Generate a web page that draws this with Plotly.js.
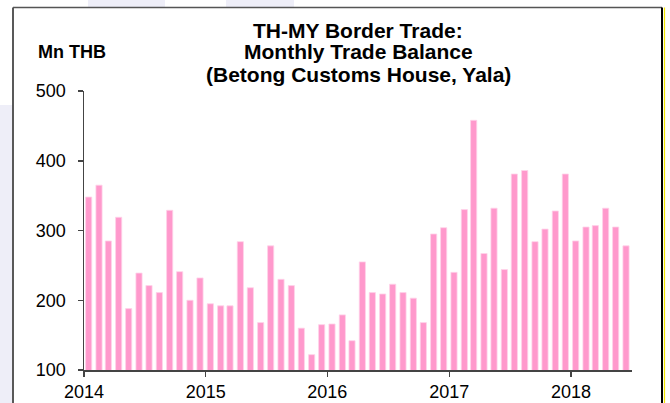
<!DOCTYPE html>
<html>
<head>
<meta charset="utf-8">
<script src="https://cdn.plot.ly/plotly-3.0.1.min.js"></script>
<style>
  html, body { margin: 0; padding: 0; background: #ffffff; }
  #chart { width: 670px; height: 403px; }
</style>
</head>
<body>
<div id="chart"></div>
<script>
// Monthly trade balance, Mn THB, Jan 2014 - Jun 2018
const startYear = 2014;
const tradeBalance = [
  348, 365, 285, 319, 188, 239, 221, 211, 329, 241, 200, 232,   // 2014
  195, 192, 192, 284, 218, 168, 278, 230, 221, 160, 122, 165,   // 2015
  166, 179, 142, 255, 211, 209, 223, 211, 203, 168, 295, 304,   // 2016
  240, 330, 458, 267, 332, 244, 381, 386, 284, 302, 328, 381,   // 2017
  285, 305, 307, 332, 305, 278                                  // 2018
];
const yearTicks = [2014, 2015, 2016, 2017, 2018];
const yTicks = [100, 200, 300, 400, 500];
const titleLines = ['TH-MY Border Trade:', 'Monthly Trade Balance', '(Betong Customs House, Yala)'];
const unitLabel = 'Mn THB';

// month categories (mid-month dates)
const months = tradeBalance.map((_, i) => {
  const y = startYear + Math.floor(i / 12);
  const m = (i % 12) + 1;
  return y + '-' + String(m).padStart(2, '0') + '-15';
});

const FONT = 'Liberation Sans, Arial, Helvetica, sans-serif';

const trace = {
  type: 'bar',
  x: months,
  y: tradeBalance,
  width: 18.5 * 86400000,
  marker: { color: '#ff99cc', line: { color: '#ffd3ea', width: 0.8 } },
  hoverinfo: 'x+y'
};

// pixel -> paper helpers (plot area: x 84..632, y 91..370)
const px = v => (v - 84) / 548;
const py = v => (370 - v) / 279;

const shapes = [
  // faint background watermark outside the frame
  { type: 'rect', xref: 'paper', yref: 'paper', x0: px(-5), x1: px(12), y0: py(410), y1: py(105),
    fillcolor: '#eeeef8', line: { width: 0 }, layer: 'below' },
  { type: 'rect', xref: 'paper', yref: 'paper', x0: px(88), x1: px(165), y0: py(7), y1: py(-5),
    fillcolor: '#eeeef8', line: { width: 0 }, layer: 'below' },
  { type: 'rect', xref: 'paper', yref: 'paper', x0: px(226), x1: px(294), y0: py(7), y1: py(-5),
    fillcolor: '#eeeef8', line: { width: 0 }, layer: 'below' },
  // frame
  { type: 'line', xref: 'paper', yref: 'paper', x0: px(13), x1: px(13), y0: py(7.5), y1: py(410),
    line: { color: '#222', width: 1.5 } },
  { type: 'line', xref: 'paper', yref: 'paper', x0: px(13), x1: px(662), y0: py(7.5), y1: py(7.5),
    line: { color: '#555', width: 1.5 } },
  { type: 'line', xref: 'paper', yref: 'paper', x0: px(662), x1: px(662), y0: py(7.5), y1: py(410),
    line: { color: '#000', width: 2 } },
  { type: 'line', xref: 'paper', yref: 'paper', x0: px(664.5), x1: px(664.5), y0: py(7.5), y1: py(410),
    line: { color: '#f2e600', width: 1.2 } }
];

const annotations = titleLines.map((t, i) => ({
  text: '<b>' + t + '</b>',
  xref: 'paper', yref: 'paper',
  x: px(358), y: py(30 + 22 * i),
  xanchor: 'center', yanchor: 'middle',
  showarrow: false,
  font: { family: FONT, size: 21, color: '#000' }
}));
annotations.push({
  text: '<b>' + unitLabel + '</b>',
  xref: 'paper', yref: 'paper',
  x: px(72), y: py(52),
  xanchor: 'center', yanchor: 'middle',
  showarrow: false,
  font: { family: FONT, size: 18, color: '#000' }
});

const layout = {
  width: 670, height: 403,
  margin: { l: 84, r: 38, t: 91, b: 33, pad: 0 },
  paper_bgcolor: '#ffffff',
  plot_bgcolor: 'rgba(0,0,0,0)',
  showlegend: false,
  bargap: 0.4,
  font: { family: FONT, size: 18, color: '#000' },
  xaxis: {
    type: 'date',
    range: ['2014-01-01', '2018-07-03'],
    tickvals: yearTicks.map(y => y + '-01-01'),
    ticktext: yearTicks.map(String),
    ticks: 'outside', ticklen: 5, tickwidth: 1.5, tickcolor: '#444',
    showline: true, linecolor: '#444', linewidth: 1.5,
    showgrid: false, zeroline: false,
    tickfont: { family: FONT, size: 18, color: '#000' }
  },
  yaxis: {
    range: [100, 500],
    tickvals: yTicks,
    ticks: 'outside', ticklen: 5, tickwidth: 1.5, tickcolor: '#444',
    ticklabelstandoff: 8,
    showline: true, linecolor: '#444', linewidth: 1.5,
    showgrid: false, zeroline: false,
    tickfont: { family: FONT, size: 18, color: '#000' }
  },
  shapes: shapes,
  annotations: annotations
};

Plotly.newPlot('chart', [trace], layout, { staticPlot: true, displayModeBar: false });
</script>
</body>
</html>
